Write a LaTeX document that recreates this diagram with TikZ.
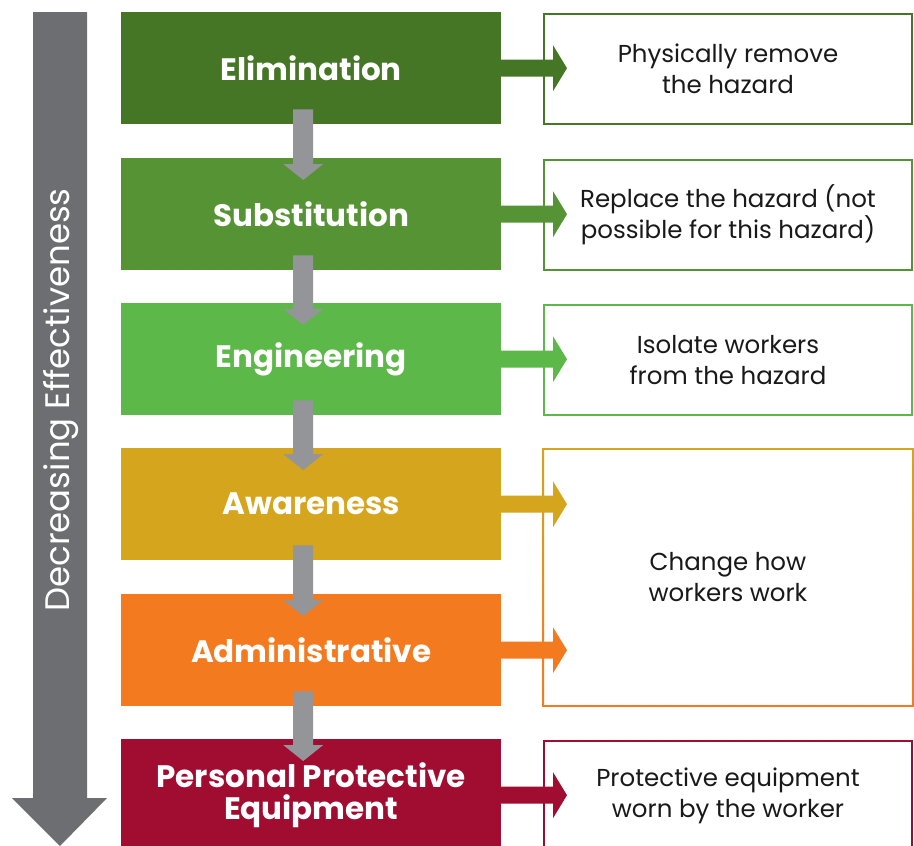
\documentclass[tikz,border=0pt]{standalone}
\usepackage{fontspec}
\setmainfont{Poppins}
\usetikzlibrary{calc}
\definecolor{celim}{HTML}{457625}
\definecolor{csub}{HTML}{559335}
\definecolor{ceng}{HTML}{5CB848}
\definecolor{cawa}{HTML}{D4A51D}
\definecolor{cadm}{HTML}{F47A20}
\definecolor{cppe}{HTML}{A10D31}
\definecolor{bgray}{HTML}{6D6E71}
\definecolor{dgray}{HTML}{939598}
\newcommand\dnarrow[2]{%
  \fill[dgray] ($(#1.south)+(-18,-15)$) -- ($(#1.south)+(2,-15)$) -- ($(#2.north)+(2,6)$) -- ($(#2.north)+(12,6)$) -- ($(#2.north)+(-8,22)$) -- ($(#2.north)+(-28,6)$) -- ($(#2.north)+(-18,6)$) -- cycle;}
\newcommand\rtarrow[3]{%
  \fill[#3] ($(#1.east)+(-1,-8.5)$) -- ($(#1.east -| #2.west)+(10,-8.5)$) -- ($(#1.east -| #2.west)+(10,-23)$) -- ($(#1.east -| #2.west)+(24,0)$) -- ($(#1.east -| #2.west)+(10,23)$) -- ($(#1.east -| #2.west)+(10,8.5)$) -- ($(#1.east)+(-1,8.5)$) -- cycle;}
\begin{document}
\begin{tikzpicture}[x=1pt,y=-1pt,
  lbox/.style={minimum width=380pt, minimum height=112pt, inner sep=0pt, text=white,
    font=\fontsize{31}{32}\selectfont\bfseries, align=center, anchor=north west},
  rbox/.style={line width=2pt, minimum width=368pt, minimum height=110pt, inner sep=0pt,
    font=\fontsize{24.5}{31}\selectfont, text=black!90, align=center, anchor=north west}]
\clip (0,0) rectangle (914,846);
\fill[white] (0,0) rectangle (914,846);
% big arrow
\fill[bgray] (33,12) -- (87,12) -- (87,798) -- (107,798) -- (60,846) -- (12,798) -- (33,798) -- cycle;
\node[rotate=90, text=white, font=\fontsize{34}{36}\selectfont] (dec) at (61,400) {Decreasing Effectiveness};
% left boxes
\node[lbox, fill=celim] (b1) at (121,12) {Elimination};
\node[lbox, fill=csub] (b2) at (121,158) {Substitution};
\node[lbox, fill=ceng] (b3) at (121,303) {Engineering};
\node[lbox, fill=cawa] (b4) at (121,448) {Awareness};
\node[lbox, fill=cadm] (b5) at (121,594) {Administrative};
\node[lbox, fill=cppe] (b6) at (121,739) {Personal Protective\\Equipment};
% right boxes
\node[rbox, draw=celim] (r1) at (543,13) {Physically remove\\the hazard};
\node[rbox, draw=csub] (r2) at (543,159) {Replace the hazard (not\\possible for this hazard)};
\node[rbox, draw=ceng] (r3) at (543,304) {Isolate workers\\from the hazard};
\node[rbox, minimum height=255pt] (r4) at (543,449) {Change how\\workers work};
\draw[cawa, line width=2pt] ($(r4.north west)+(-1,0)$) -- ($(r4.north east)+(1,0)$);
\draw[cadm, line width=2pt] ($(r4.south west)+(-1,0)$) -- ($(r4.south east)+(1,0)$);
\shade[top color=cawa, bottom color=cadm] ($(r4.north west)+(-1,0)$) rectangle ($(r4.south west)+(1,0)$);
\shade[top color=cawa, bottom color=cadm] ($(r4.north east)+(-1,0)$) rectangle ($(r4.south east)+(1,0)$);
\node[rbox, draw=cppe] (r6) at (543,740) {Protective equipment\\worn by the worker};
% down arrows
\dnarrow{b1}{b2}
\dnarrow{b2}{b3}
\dnarrow{b3}{b4}
\dnarrow{b4}{b5}
\dnarrow{b5}{b6}
% right arrows
\rtarrow{b1}{r1}{celim}
\rtarrow{b2}{r2}{csub}
\rtarrow{b3}{r3}{ceng}
\rtarrow{b4}{r4}{cawa}
\rtarrow{b5}{r4}{cadm}
\rtarrow{b6}{r6}{cppe}
\end{tikzpicture}
\end{document}
